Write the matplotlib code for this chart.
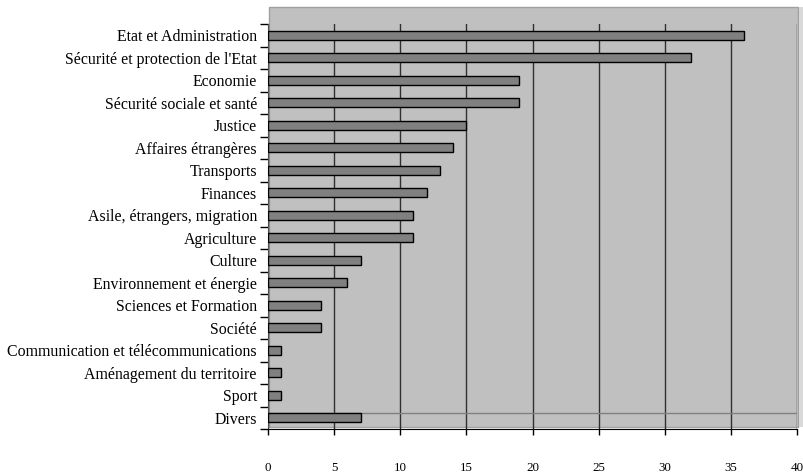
import matplotlib.pyplot as plt
from matplotlib.patches import Rectangle

# domaines et nombre d'objets
categories = ["Etat et Administration", "Sécurité et protection de l'Etat", "Economie",
              "Sécurité sociale et santé", "Justice", "Affaires étrangères", "Transports",
              "Finances", "Asile, étrangers, migration", "Agriculture", "Culture",
              "Environnement et énergie", "Sciences et Formation", "Société",
              "Communication et télécommunications", "Aménagement du territoire",
              "Sport", "Divers"]
values = [36, 32, 19, 19, 15, 14, 13, 12, 11, 11, 7, 6, 4, 4, 1, 1, 1, 7]
xticks = [0, 5, 10, 15, 20, 25, 30, 35, 40]

plt.rcParams["font.family"] = "Liberation Serif"

W, H = 804, 475
fig = plt.figure(figsize=(W / 100, H / 100), dpi=100)

# fond gris du graphique (style Excel)
fig.patches.append(Rectangle((269 / W, 1 - 427 / H), (798 - 269) / W, (427 - 7) / H,
                             transform=fig.transFigure, facecolor="#c0c0c0",
                             edgecolor="#a0a0a0", linewidth=1, zorder=-1))
fig.patches.append(Rectangle((799 / W, 1 - 427 / H), 5 / W, (427 - 7) / H,
                             transform=fig.transFigure, facecolor="#d9d9d9",
                             edgecolor="none", zorder=-1))

ax = fig.add_axes([268 / W, 1 - 429 / H, (797 - 268) / W, (429 - 24) / H])
ax.set_facecolor("none")
ax.set_zorder(2)

pos = list(range(len(categories)))
ax.barh(pos, values, height=0.4, color="#808080", edgecolor="black", linewidth=1, zorder=3)

ax.set_xlim(0, 40)
ax.set_ylim(len(categories) - 0.5, -0.5)

ax.set_xticks(xticks)
ax.set_xticklabels([str(t) for t in xticks])
ax.tick_params(axis="x", direction="out", length=4, width=1, pad=20, labelsize=9.4)
ax.xaxis.grid(True, color="#303030", linewidth=1, zorder=1)

ax.set_yticks(pos)
ax.set_yticklabels(categories)
ax.tick_params(axis="y", which="major", length=0, pad=8, labelsize=11.4)
ax.set_yticks([p - 0.5 for p in pos] + [len(pos) - 0.5], minor=True)
ax.tick_params(axis="y", which="minor", direction="out", length=6, width=1)

for s in ["top", "right"]:
    ax.spines[s].set_visible(False)
ax.spines["left"].set_color("#505050")
ax.spines["bottom"].set_color("black")

# ligne grise horizontale en bas de la zone de tracé
ax.axhline(len(categories) - 1.2, color="#808080", linewidth=1, zorder=2)

fig.savefig("out.png", dpi=100)
